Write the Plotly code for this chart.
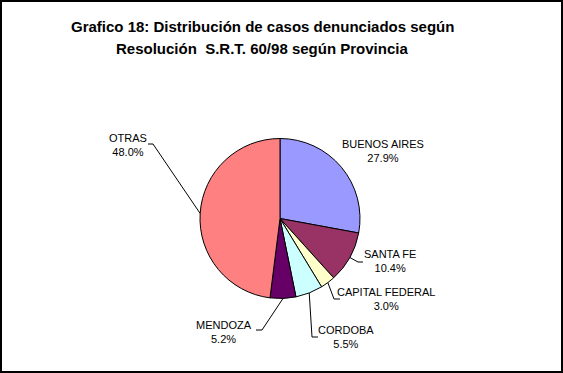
import math
import plotly.graph_objects as go

# ---- data ----
provincias = ["BUENOS AIRES", "SANTA FE", "CAPITAL FEDERAL", "CORDOBA", "MENDOZA", "OTRAS"]
porcentajes = [27.9, 10.4, 3.0, 5.5, 5.2, 48.0]
colores = ["#9999FF", "#993366", "#FFFFCC", "#CCFFFF", "#660066", "#FF8080"]
titulo_1 = "Grafico 18: Distribución de casos denunciados según"
titulo_2 = "Resolución  S.R.T. 60/98 según Provincia"

# ---- layout (pixel geometry) ----
W, H = 563, 373
CX, CY, R = 280, 218.5, 80
# label centre positions and leader elbow/end points (pixels)
label_pos = {
    "BUENOS AIRES": (383, 151),
    "SANTA FE": (390, 261),
    "CAPITAL FEDERAL": (386, 299),
    "CORDOBA": (346, 337),
    "MENDOZA": (224, 332),
    "OTRAS": (128, 145),
}
leader = {
    "SANTA FE": [(358, 262), (363, 262)],
    "CAPITAL FEDERAL": [(334, 299), (340, 299)],
    "CORDOBA": [(312, 337), (318, 337)],
    "MENDOZA": [(262, 330), (256, 330)],
    "OTRAS": [(153, 144), (148, 144)],
}

def px(x):
    return x / W

def py(y):
    return 1 - y / H

fig = go.Figure(go.Pie(
    labels=provincias,
    values=porcentajes,
    sort=False,
    direction="clockwise",
    rotation=0,
    marker=dict(colors=colores, line=dict(color="black", width=1)),
    textinfo="none",
    hoverinfo="label+percent",
    showlegend=False,
    domain=dict(x=[px(CX - R), px(CX + R)], y=[py(CY + R), py(CY - R)]),
))

annotations = []
shapes = []
total = sum(porcentajes)
cum = 0.0
for name, val in zip(provincias, porcentajes):
    mid = (cum + val / 2) / total * 2 * math.pi
    cum += val
    lx, ly = label_pos[name]
    annotations.append(dict(
        x=px(lx), y=py(ly), xref="paper", yref="paper",
        text=f"{name}<br>{val:.1f}%", showarrow=False,
        font=dict(family="Liberation Sans, Arial", size=11, color="black"),
        align="center", xanchor="center", yanchor="middle",
    ))
    if name in leader:
        sx = CX + R * math.sin(mid)
        sy = CY - R * math.cos(mid)
        pts = [(sx, sy)] + leader[name]
        path = "M " + " L ".join(f"{px(a)},{py(b)}" for a, b in pts)
        shapes.append(dict(type="path", xref="paper", yref="paper", path=path,
                           line=dict(color="black", width=1)))

for t, yy in ((titulo_1, 26), (titulo_2, 49)):
    annotations.append(dict(
        x=px(262), y=py(yy), xref="paper", yref="paper", text=f"<b>{t}</b>",
        showarrow=False, xanchor="center", yanchor="middle",
        font=dict(family="Liberation Sans, Arial", size=15, color="black"),
    ))

shapes.append(dict(type="rect", xref="paper", yref="paper",
                   x0=px(1), x1=px(562), y0=py(372), y1=py(1),
                   line=dict(color="black", width=2)))

fig.update_layout(
    width=W, height=H,
    margin=dict(l=0, r=0, t=0, b=0),
    paper_bgcolor="white", plot_bgcolor="white",
    annotations=annotations, shapes=shapes,
)

fig.write_html(
    "out.html",
    config={"displayModeBar": False},
    post_script="document.body.style.margin='0';document.body.style.overflow='hidden';",
)
